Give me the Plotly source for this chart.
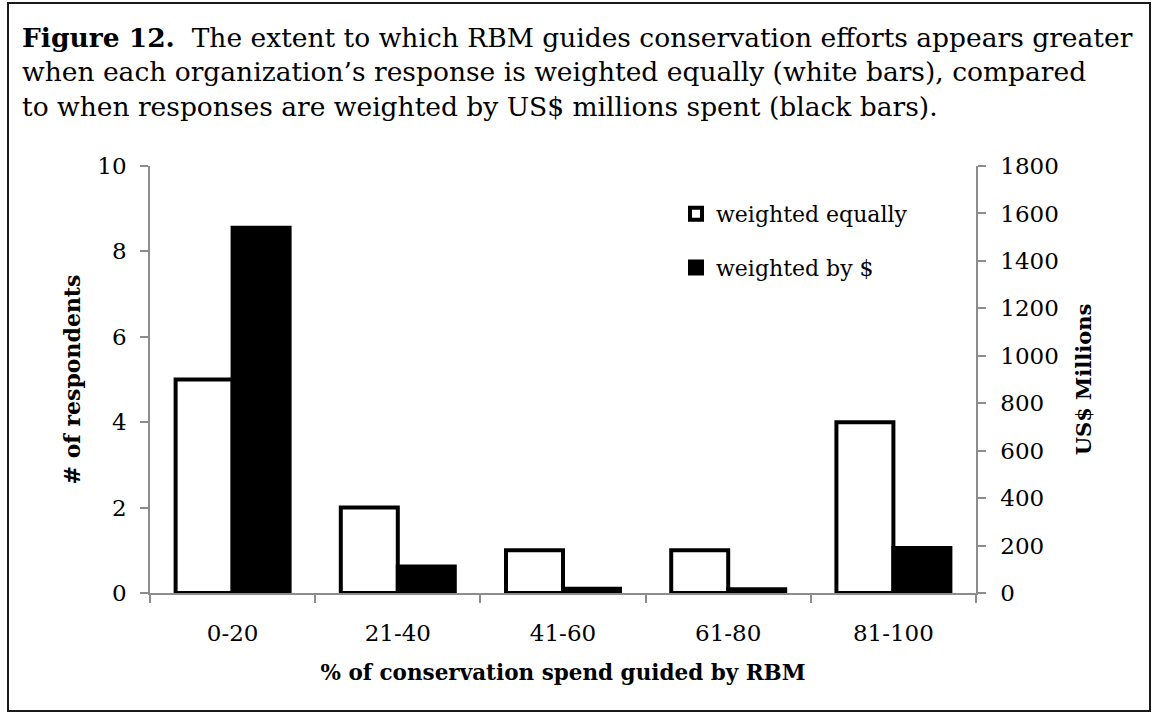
import plotly.graph_objects as go

categories = ["0-20", "21-40", "41-60", "61-80", "81-100"]
respondents = [5, 2, 1, 1, 4]
usd_millions = [1540, 112, 18, 16, 190]

FONT = "DejaVu Serif"

fig = go.Figure()
fig.add_trace(go.Bar(
    x=categories, y=respondents, name="weighted equally",
    marker=dict(color="white", line=dict(color="black", width=4)),
    offsetgroup="1", yaxis="y", legendgroup="a",
))
fig.add_trace(go.Bar(
    x=categories, y=usd_millions, name="weighted by $",
    marker=dict(color="black", line=dict(color="black", width=4)),
    offsetgroup="2", yaxis="y2", legendgroup="b",
))

W, H = 1156, 713
L, R, T, B = 150, 180, 166, 120
pw, ph = W - L - R, H - T - B

def px_x(px):
    return (px - L) / pw

def px_y(py):
    return (H - B - py) / ph

axis_color = "#8c8c8c"

fig.update_layout(
    width=W, height=H,
    margin=dict(l=L, r=R, t=T, b=B, autoexpand=False),
    paper_bgcolor="white", plot_bgcolor="white",
    barmode="group", bargap=0.31, bargroupgap=0,
    font=dict(family=FONT, color="black", size=22),
    showlegend=True,
    legend=dict(
        x=px_x(676), y=px_y(193), xanchor="left", yanchor="top",
        font=dict(family=FONT, size=22, color="black"),
        bgcolor="rgba(0,0,0,0)", tracegroupgap=22, traceorder="grouped",
        itemwidth=30,
    ),
    xaxis=dict(
        showline=True, linecolor=axis_color, linewidth=1.5,
        ticks="outside", tickson="boundaries", ticklen=8, tickcolor=axis_color,
        tickwidth=1.5, tickfont=dict(family=FONT, size=23),
        ticklabelstandoff=19,
        title=dict(text="<b>% of conservation spend guided by RBM</b>",
                   font=dict(family=FONT, size=21.5), standoff=20),
        showgrid=False, zeroline=False,
    ),
    yaxis=dict(
        range=[0, 10], dtick=2, showline=True, linecolor=axis_color, linewidth=1.5,
        ticks="outside", ticklen=8, tickcolor=axis_color, tickwidth=1.5,
        tickfont=dict(family=FONT, size=23), ticklabelstandoff=9,
        title=dict(text="<b># of respondents</b>", font=dict(family=FONT, size=22),
                   standoff=11),
        showgrid=False, zeroline=False,
    ),
    yaxis2=dict(
        range=[0, 1800], dtick=200, overlaying="y", side="right",
        showline=True, linecolor=axis_color, linewidth=1.5,
        ticks="outside", ticklen=8, tickcolor=axis_color, tickwidth=1.5,
        tickfont=dict(family=FONT, size=23), ticklabelstandoff=10,
        title=dict(text="<b>US$ Millions</b>", font=dict(family=FONT, size=21),
                   standoff=18),
        showgrid=False, zeroline=False,
    ),
)

title_lines = [
    "<b>Figure 12.</b>  The extent to which RBM guides conservation efforts appears greater",
    "when each organization\u2019s response is weighted equally (white bars), compared",
    "to when responses are weighted by US$ millions spent (black bars).",
]
for i, line in enumerate(title_lines):
    fig.add_annotation(
        text=line, xref="paper", yref="paper",
        x=px_x(20), y=px_y(38 + 34 * i), xanchor="left", yanchor="middle",
        showarrow=False, font=dict(family=FONT, size=26.5, color="black"),
    )

fig.add_shape(
    type="rect", xref="paper", yref="paper",
    x0=px_x(8), x1=px_x(1150), y0=px_y(711), y1=px_y(3),
    line=dict(color="#1a1a1a", width=2), fillcolor="rgba(0,0,0,0)", layer="below",
)

fig.write_html("out.html", config={"displayModeBar": False},
               post_script="document.body.style.margin='0';")
